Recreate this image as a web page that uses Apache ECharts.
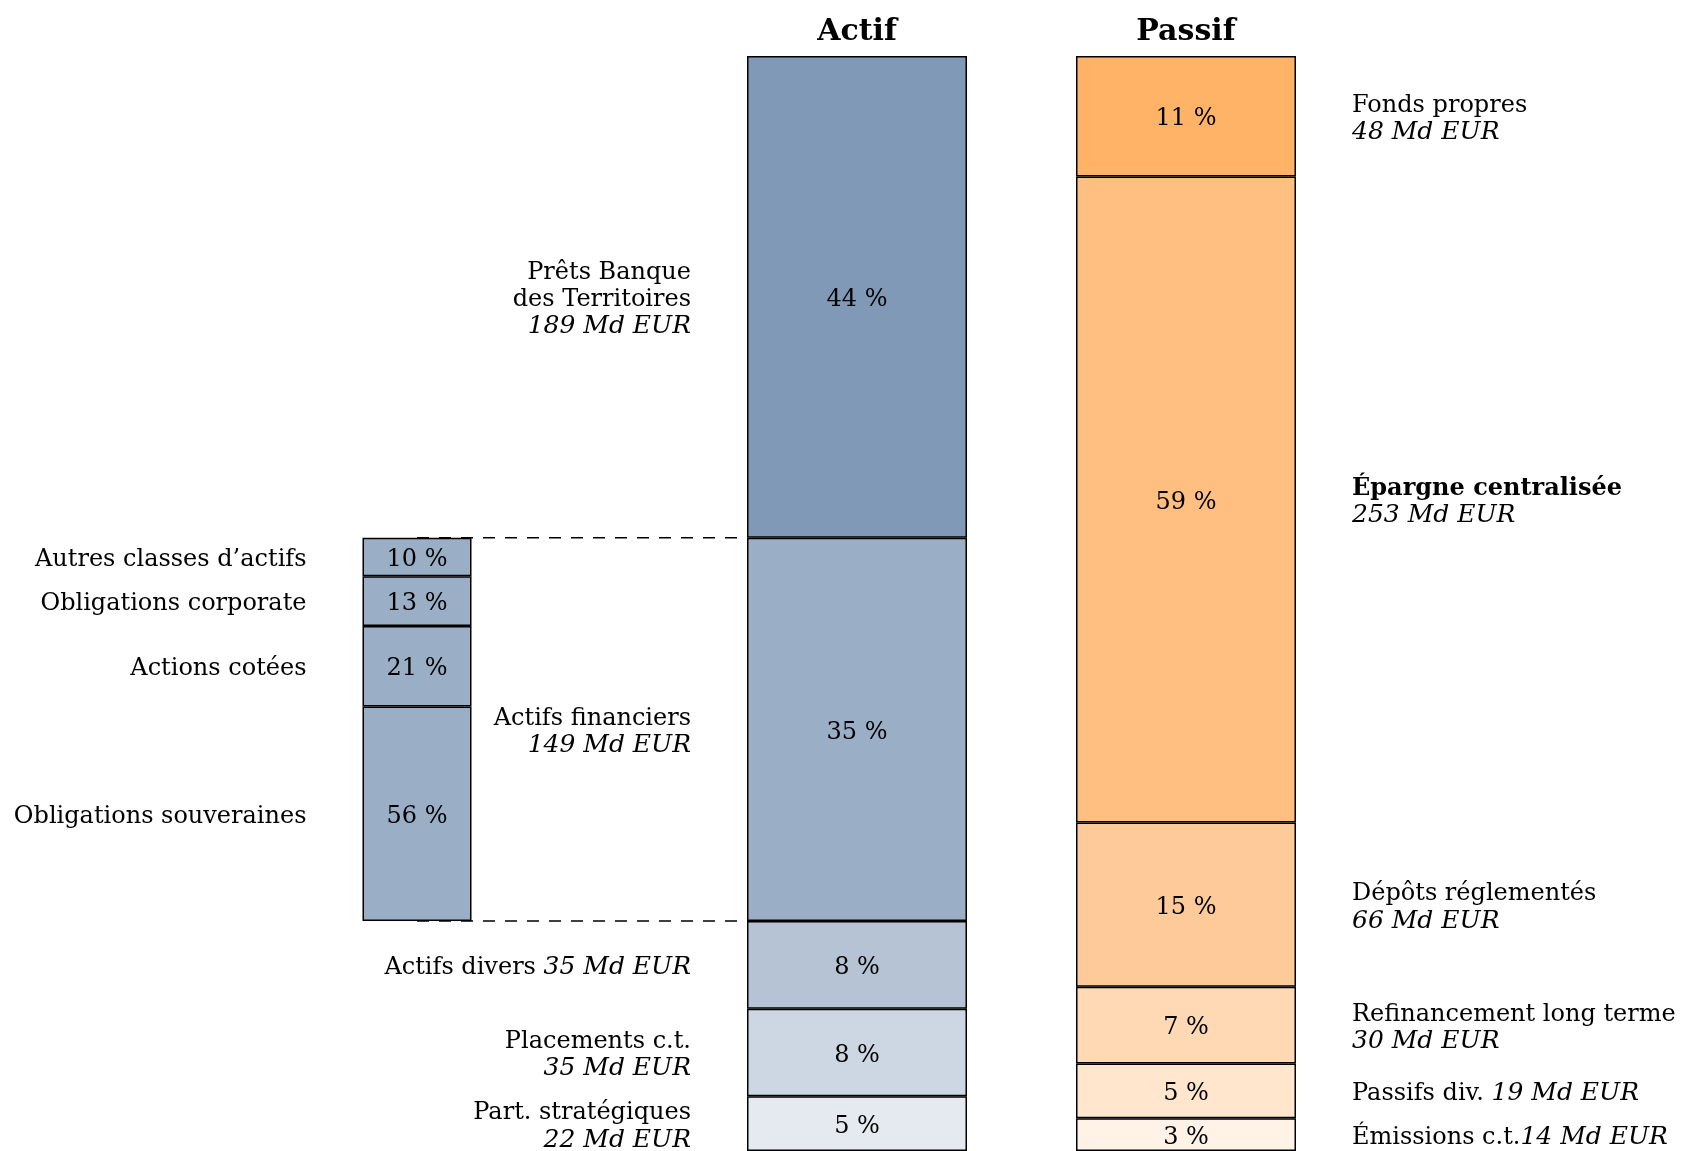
<!DOCTYPE html>
<html><head><meta charset="utf-8">
<script src="https://cdn.jsdelivr.net/npm/echarts@6/dist/echarts.min.js"></script>
<style>html,body{margin:0;padding:0;background:#fff}#c{width:1681px;height:1151px}</style>
</head><body><div id="c"></div><script>
// ---------- DATA ----------
const columnTitles = ['Actif', 'Passif'];
const actifNames = ['Prêts Banque\ndes Territoires', 'Actifs financiers', 'Actifs divers', 'Placements c.t.', 'Part. stratégiques'];
const actifMd = [189, 149, 35, 35, 22];
const actifPct = [44, 35, 8, 8, 5];
const actifSep = ['\n', '\n', ' ', '\n', '\n'];
const passifNames = ['Fonds propres', 'Épargne centralisée', 'Dépôts réglementés', 'Refinancement long terme', 'Passifs div.', 'Émissions c.t.'];
const passifMd = [48, 253, 66, 30, 19, 14];
const passifPct = [11, 59, 15, 7, 5, 3];
const passifSep = ['\n', '\n', '\n', '\n', ' ', ''];
const passifBold = [false, true, false, false, false, false];
const finNames = ['Autres classes d’actifs', 'Obligations corporate', 'Actions cotées', 'Obligations souveraines'];
const finPct = [10, 13, 21, 56];
const detailIndex = 1; // "Actifs financiers" is broken down

// ---------- STYLE ----------
const FONT = 'DejaVu Serif';
const FS = 24;
const actifColors = ['#7f99b6', '#9aaec6', '#b5c3d4', '#cdd7e3', '#e5eaf1'];
const passifColors = ['#ffb366', '#ffbf80', '#ffca99', '#ffd9b3', '#ffe6cc', '#fff2e6'];
const finColor = '#9aaec6';
const GA = {left: 747, top: 56, width: 220, height: 1098};
const GP = {left: 1076, top: 56, width: 220, height: 1098};
const GS = {left: 362.5, top: 56, width: 109, height: 1098};
const LOFF = [0, 3];

function rich(align) {
  const base = {fontFamily: FONT, fontSize: FS, color: '#000', align: align, lineHeight: 27};
  return {
    n: Object.assign({}, base),
    bd: Object.assign({}, base, {fontWeight: 'bold'}),
    v: Object.assign({}, base, {fontStyle: 'italic', fontSize: 25})
  };
}
function sideText(name, md, sep, bold) {
  const st = bold ? 'bd' : 'n';
  const lines = name.split('\n').map(s => '{' + st + '|' + s + '}').join('\n');
  if (md == null) return lines;
  const val = '{v|' + md + ' Md EUR}';
  if (sep === '\n') return lines + '\n' + val;
  return '{' + st + '|' + name + sep + '}' + val;
}

const series = [];
const invisible = {color: 'rgba(0,0,0,0)', borderWidth: 0};
function addColumn(axis, key, vals, colors, insides, sides, side, offset) {
  const common = {type: 'bar', xAxisIndex: axis, yAxisIndex: axis, barWidth: '100%', barGap: '-100%', silent: true, animation: false};
  if (offset) {
    series.push(Object.assign({}, common, {stack: key + 'v', data: [offset], itemStyle: invisible, label: {show: false}}));
    series.push(Object.assign({}, common, {stack: key + 'l', data: [offset], itemStyle: invisible, label: {show: false}}));
  }
  vals.forEach((v, i) => {
    series.push(Object.assign({}, common, {
      stack: key + 'v', data: [v],
      itemStyle: {color: colors[i], borderColor: '#000', borderWidth: 1.5},
      label: {show: true, position: 'inside', offset: LOFF, formatter: insides[i], fontFamily: FONT, fontSize: FS, color: '#000'}
    }));
  });
  vals.forEach((v, i) => {
    series.push(Object.assign({}, common, {
      stack: key + 'l', data: [v], itemStyle: invisible, z: 5,
      label: {show: true, position: side, distance: 56, offset: LOFF, formatter: sides[i], rich: rich(side === 'left' ? 'right' : 'left')}
    }));
  });
}

addColumn(0, 'a', actifPct, actifColors,
  actifPct.map(p => p + ' %'),
  actifNames.map((n, i) => sideText(n, actifMd[i], actifSep[i], false)), 'left', 0);
addColumn(1, 'p', passifPct, passifColors,
  passifPct.map(p => p + ' %'),
  passifNames.map((n, i) => sideText(n, passifMd[i], passifSep[i], passifBold[i])), 'right', 0);
addColumn(2, 's', finPct.map(p => p * actifPct[detailIndex] / 100), finPct.map(() => finColor),
  finPct.map(p => p + ' %'),
  finNames.map(n => sideText(n, null, '', false)), 'left',
  actifPct.slice(0, detailIndex).reduce((a, b) => a + b, 0));

function xAx(gi, label) {
  return {
    type: 'category', gridIndex: gi, data: [label], position: 'top',
    axisLine: {show: false}, axisTick: {show: false}, splitLine: {show: false},
    axisLabel: {show: label !== '', fontFamily: FONT, fontSize: 30, fontWeight: 'bold', color: '#000', margin: 24, verticalAlign: 'middle'}
  };
}
function yAx(gi) {
  return {type: 'value', gridIndex: gi, min: 0, max: 100, inverse: true, show: false, splitLine: {show: false}};
}

const chart = echarts.init(document.getElementById('c'), null, {renderer: 'canvas'});
chart.setOption({
  animation: false,
  backgroundColor: '#fff',
  grid: [GA, GP, GS],
  xAxis: [xAx(0, columnTitles[0]), xAx(1, columnTitles[1]), xAx(2, '')],
  yAxis: [yAx(0), yAx(1), yAx(2)],
  series: series
});

const yTop = chart.convertToPixel({yAxisIndex: 0}, actifPct.slice(0, detailIndex).reduce((a, b) => a + b, 0));
const yBot = chart.convertToPixel({yAxisIndex: 0}, actifPct.slice(0, detailIndex + 1).reduce((a, b) => a + b, 0));
const xStart = chart.convertToPixel({xAxisIndex: 2}, 0);
const xEnd = GA.left;
const dash = {stroke: '#000', lineWidth: 1.5, lineDash: [12, 10]};
chart.setOption({
  graphic: [
    {type: 'line', z: 100, silent: true, shape: {x1: xStart, y1: yTop, x2: xEnd, y2: yTop}, style: dash},
    {type: 'line', z: 100, silent: true, shape: {x1: xStart, y1: yBot, x2: xEnd, y2: yBot}, style: dash}
  ]
});
</script></body></html>
